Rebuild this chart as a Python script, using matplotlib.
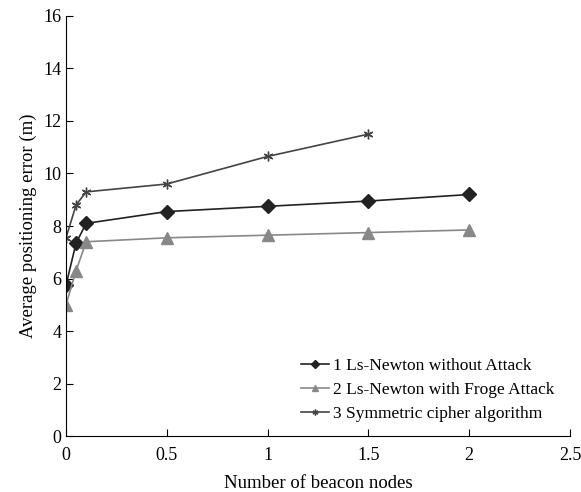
import numpy as np
import matplotlib.pyplot as plt

# дані з графіка
x1 = [0, 0.05, 0.1, 0.5, 1, 1.5, 2]
y1 = [5.75, 7.35, 8.1, 8.55, 8.75, 8.95, 9.2]   # без атаки
x2 = [0, 0.05, 0.1, 0.5, 1, 1.5, 2]
y2 = [5.0, 6.3, 7.4, 7.55, 7.65, 7.75, 7.85]    # з атакою
x3 = [0, 0.05, 0.1, 0.5, 1, 1.5]
y3 = [7.55, 8.8, 9.3, 9.6, 10.65, 11.5]         # симетричний шифр

labels = ["1 Ls-Newton without Attack",
          "2 Ls-Newton with Froge Attack",
          "3 Symmetric cipher algorithm"]

plt.rcParams['font.family'] = ['Liberation Serif', 'DejaVu Serif']

fig = plt.figure(figsize=(5.81, 4.92), dpi=100)
ax = fig.add_axes([0.1136, 0.1138, 0.8675, 0.8537])

ax.plot(x1, y1, color='#222222', lw=1.2, marker='D', ms=7, label=labels[0])
ax.plot(x2, y2, color='#888888', lw=1.2, marker='^', ms=8, label=labels[1])
ax.plot(x3, y3, color='#444444', lw=1.2, marker=(6, 2, 0), ms=7, mew=1.0, label=labels[2])

ax.set_xlim(0, 2.5)
ax.set_ylim(0, 16)
ax.set_xticks(np.arange(0, 2.6, 0.5))
ax.set_xticklabels(['0', '0.5', '1', '1.5', '2', '2.5'])
ax.set_yticks(np.arange(0, 17, 2))
ax.spines['top'].set_visible(False)
ax.spines['right'].set_visible(False)
ax.tick_params(direction='in', labelsize=13, length=5)
ax.tick_params(axis='x', pad=8)

ax.set_xlabel("Number of beacon nodes", fontsize=13.5, labelpad=8)
ax.set_ylabel("Average positioning error (m)", fontsize=13.5)

ax.legend(loc='lower right', bbox_to_anchor=(0.975, 0.025), borderaxespad=0,
          borderpad=0.2, frameon=False,
          fontsize=12.5, handlelength=1.6, markerscale=0.6,
          handletextpad=0.2, labelspacing=0.45)

fig.savefig("out.png", dpi=100)
